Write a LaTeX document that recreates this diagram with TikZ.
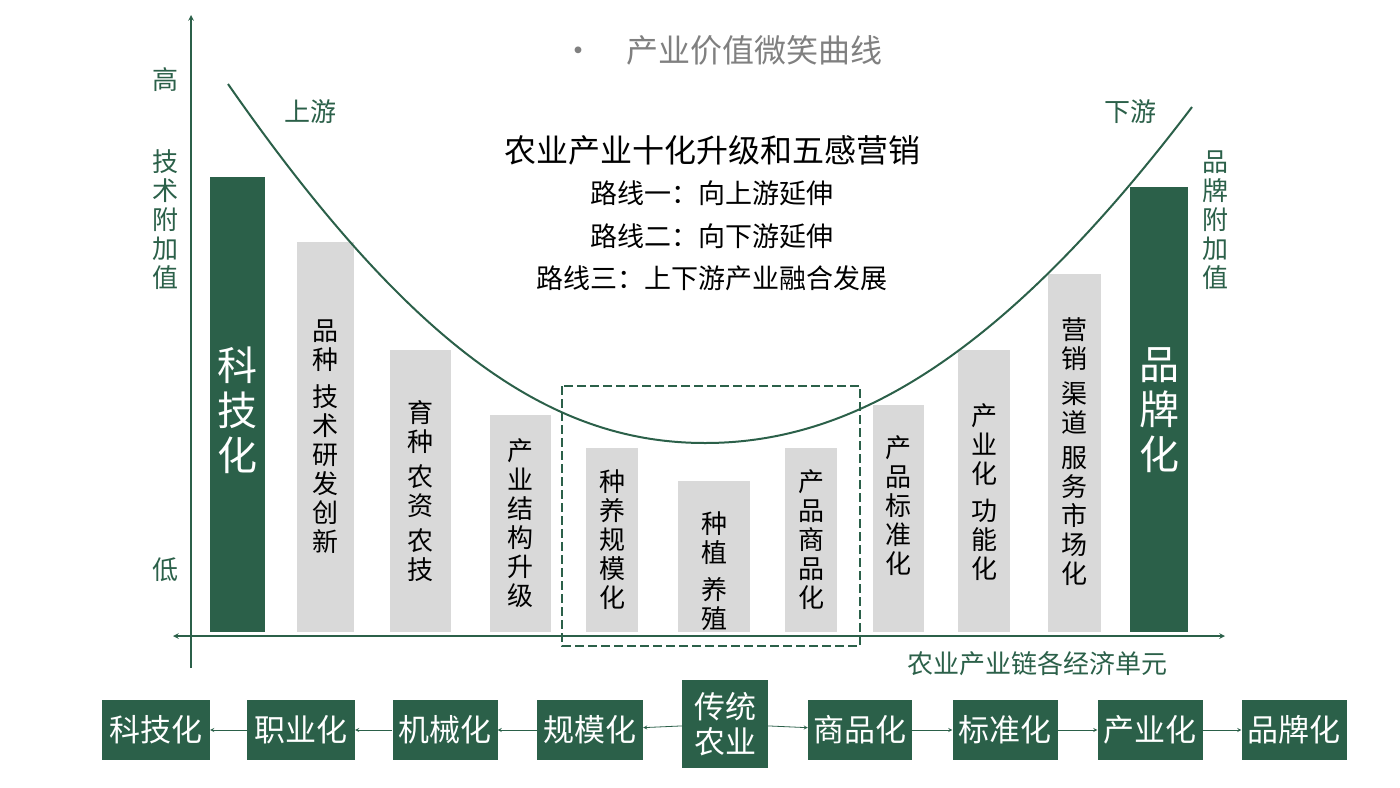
\documentclass[tikz,border=0pt]{standalone}
\usepackage{fontspec}
\setmainfont{Noto Sans CJK SC}
\definecolor{dkgreen}{HTML}{2B6049}
\definecolor{barg}{HTML}{D9D9D9}
\begin{document}
\begin{tikzpicture}[x=1pt,y=-1pt,
	bar/.style={fill=barg, draw=none},
	darkbar/.style={fill=dkgreen, draw=none},
	vlabel/.style={align=center, font=\fontsize{26}{29}\selectfont, inner sep=0pt},
	stage/.style={fill=dkgreen, text=white, font=\fontsize{31}{35}\selectfont, minimum height=60pt, inner sep=2pt, align=center},
	link/.style={dkgreen, thick, ->, >=stealth},
	axis/.style={dkgreen, line width=1.5pt, ->, >=stealth}
	]
	\useasboundingbox (0,0) rectangle (1400,787);
	
	% Axes
	\draw[axis] (191,668) -- (191,15);
	\draw[axis, <->] (173,636) -- (1225,636);
	
	% Bars
	\foreach \xa/\xb/\yt/\sty/\nm in {210/265/177/darkbar/b1, 297/354/242/bar/b2, 390/451/350/bar/b3,
		490/551/415/bar/b4, 586/638/448/bar/b5, 678/750/481/bar/b6, 785/837/448/bar/b7,
		873/924/405/bar/b8, 958/1010/350/bar/b9, 1048/1101/274/bar/b10, 1130/1188/187/darkbar/b11}
	\fill[\sty] (\xa,\yt) rectangle (\xb,632) coordinate (\nm);
	
	% Bar labels
	\node[vlabel, text=white, font=\fontsize{40}{45}\selectfont] (l1) at (237,410) {科\\技\\化};
	\node[vlabel] (l2) at (325,437) {品\\种\\[8pt]技\\术\\研\\发\\创\\新};
	\node[vlabel] (l3) at (420,491) {育\\种\\[6pt]农\\资\\[6pt]农\\技};
	\node[vlabel] (l4) at (520,523) {产\\业\\结\\构\\升\\级};
	\node[vlabel] (l5) at (612,540) {种\\养\\规\\模\\化};
	\node[vlabel] (l6) at (714,571) {种\\植\\[8pt]养\\殖};
	\node[vlabel] (l7) at (811,540) {产\\品\\商\\品\\化};
	\node[vlabel] (l8) at (898,506) {产\\品\\标\\准\\化};
	\node[vlabel] (l9) at (984,492) {产\\业\\化\\[8pt]功\\能\\化};
	\node[vlabel] (l10) at (1074,452) {营\\销\\[6pt]渠\\道\\[6pt]服\\务\\市\\场\\化};
	\node[vlabel, text=white, font=\fontsize{40}{45}\selectfont] (l11) at (1159,410) {品\\牌\\化};
	
	% Smile curve and box
	\draw[dkgreen, line width=2pt] (228,84) .. controls (420,360) and (560,443) .. (705,443)
		.. controls (850,443) and (1000,360) .. (1192,107);
	\draw[dkgreen, line width=2.2pt, dash pattern=on 9pt off 4pt] (562,386) rectangle (860,646);
	
	% Axis labels
	\node[text=dkgreen, font=\fontsize{26}{29}\selectfont] (hi) at (165,80) {高};
	\node[text=dkgreen, font=\fontsize{26}{29}\selectfont] (lo) at (165,570) {低};
	\node[vlabel, text=dkgreen] (tech) at (165,220) {技\\术\\附\\加\\值};
	\node[vlabel, text=dkgreen] (brand) at (1215,220) {品\\牌\\附\\加\\值};
	\node[text=dkgreen, font=\fontsize{26}{29}\selectfont] (up) at (310,112) {上游};
	\node[text=dkgreen, font=\fontsize{26}{29}\selectfont] (down) at (1130,112) {下游};
	\node[text=dkgreen, font=\fontsize{26}{29}\selectfont] (xlab) at (1037,664) {农业产业链各经济单元};
	
	% Title and routes
	\node[text=gray, font=\fontsize{32}{36}\selectfont] (title) at (722,50) {•\quad 产业价值微笑曲线};
	\node[font=\fontsize{32}{36}\selectfont] (main) at (712,150) {农业产业十化升级和五感营销};
	\node[font=\fontsize{27}{31}\selectfont] (r1) at (712,193) {路线一：向上游延伸};
	\node[font=\fontsize{27}{31}\selectfont] (r2) at (712,236) {路线二：向下游延伸};
	\node[font=\fontsize{27}{31}\selectfont] (r3) at (712,278) {路线三：上下游产业融合发展};
	
	% Stages
	\node[stage, minimum width=86pt, minimum height=88pt] (s0) at (725,724) {传统\\农业};
	\node[stage, minimum width=106pt] (w1) at (590,730) {规模化};
	\node[stage, minimum width=105pt] (w2) at (445,730) {机械化};
	\node[stage, minimum width=108pt] (w3) at (301,730) {职业化};
	\node[stage, minimum width=108pt] (w4) at (156,730) {科技化};
	\node[stage, minimum width=104pt] (e1) at (860,730) {商品化};
	\node[stage, minimum width=105pt] (e2) at (1005,730) {标准化};
	\node[stage, minimum width=105pt] (e3) at (1150,730) {产业化};
	\node[stage, minimum width=105pt] (e4) at (1294,730) {品牌化};
	
	% Links
	\draw[link] (s0) -- (w1);
	\draw[link] (w1) -- (w2);
	\draw[link] (w2) -- (w3);
	\draw[link] (w3) -- (w4);
	\draw[link] (s0) -- (e1);
	\draw[link] (e1) -- (e2);
	\draw[link] (e2) -- (e3);
	\draw[link] (e3) -- (e4);
\end{tikzpicture}
\end{document}
